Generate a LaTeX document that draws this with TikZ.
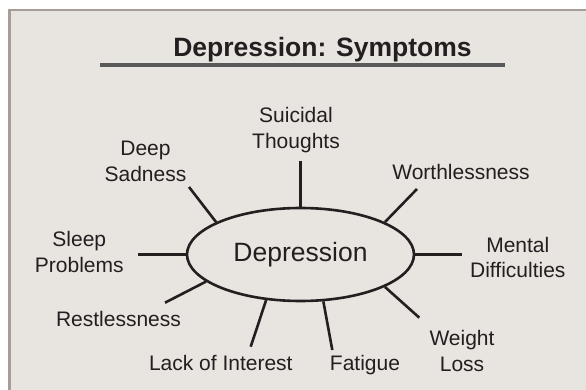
\documentclass[tikz,border=0pt]{standalone}
\usepackage{fontspec}
\setmainfont{Liberation Sans}
\usetikzlibrary{shapes.geometric}
\definecolor{bgfill}{HTML}{E8E4E0}
\definecolor{bgedge}{HTML}{A89C96}
\definecolor{ink}{HTML}{231F20}
\definecolor{rulegrey}{HTML}{58595B}
\newcommand{\twoline}[2]{\begin{tabular}[t]{@{}c@{}}#1\\#2\end{tabular}}
\begin{document}
\begin{tikzpicture}[x=1pt,y=-1pt,
  lbl/.style={font=\fontsize{21}{25.5}\selectfont, text=ink, inner sep=0pt, anchor=base},
  conn/.style={draw=ink, line width=2.6pt},
  hub/.style={ellipse, draw=ink, line width=2.6pt, minimum width=227pt, minimum height=93pt,
    inner sep=0pt, font=\fontsize{26.5}{30}\selectfont, text=ink},
  titlestyle/.style={font=\fontsize{26.5}{30}\selectfont\bfseries, text=ink, inner sep=0pt, anchor=base},
]
\useasboundingbox (0,0) rectangle (586,390);
\clip (0,0) rectangle (586,390);
% panel
\draw[fill=bgfill, draw=bgedge, line width=2.6pt] (9.6,10.2) rectangle (600,400);
% title
\node[titlestyle] (title) at (322.5,57) {Depression: Symptoms};
\coordinate (ulA) at (100,65);
\coordinate (ulB) at (505,65);
\draw[rulegrey, line width=4pt] (ulA) -- (ulB);
% hub
\node[hub] (ell) at (300.5,254.5) {Depression};
% labels
\node[lbl] (tST) at (296,123) {\twoline{Suicidal}{Thoughts}};
\node[lbl] (tDS) at (145.5,156) {\twoline{Deep}{Sadness}};
\node[lbl] (tW)  at (461,180) {Worthlessness};
\node[lbl] (tSP) at (79.3,246.7) {\twoline{Sleep}{Problems}};
\node[lbl] (tMD) at (517.8,252) {\twoline{Mental}{Difficulties}};
\node[lbl] (tR)  at (118.5,326.5) {Restlessness};
\node[lbl] (tL)  at (220.8,370) {Lack of Interest};
\node[lbl] (tF)  at (365,370) {Fatigue};
\node[lbl] (tWL) at (462,345.5) {\twoline{Weight}{Loss}};
% connector outer ends
\coordinate (cST) at (300.5,161);
\coordinate (cDS) at (189,187);
\coordinate (cW)  at (417,189);
\coordinate (cSP) at (138.3,254.5);
\coordinate (cMD) at (461.7,254.5);
\coordinate (cR)  at (165,302.7);
\coordinate (cL)  at (250.7,346.7);
\coordinate (cF)  at (332.3,350);
\coordinate (cWL) at (419.3,317.7);
% connectors
\draw[conn] (ell.north) -- (cST);
\draw[conn] (ell.159.6) -- (cDS);
\draw[conn] (ell.21) -- (cW);
\draw[conn] (ell.west) -- (cSP);
\draw[conn] (ell.east) -- (cMD);
\draw[conn] (ell.196.7) -- (cR);
\draw[conn] (ell.233.3) -- (cL);
\draw[conn] (ell.296.5) -- (cF);
\draw[conn] (ell.339.1) -- (cWL);
\end{tikzpicture}
\end{document}
